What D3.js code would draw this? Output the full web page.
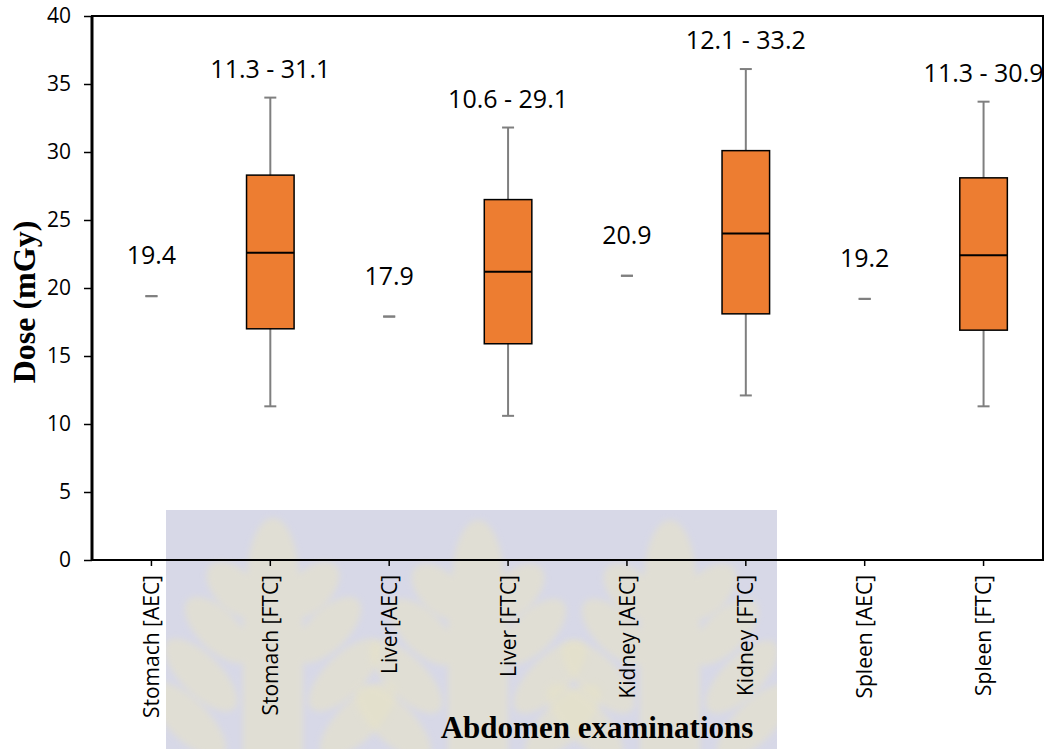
<!DOCTYPE html>
<html>
<head>
<meta charset="utf-8">
<script src="https://cdn.jsdelivr.net/npm/d3@7"></script>
<style>
  html, body { margin: 0; padding: 0; background: #fff; }
  svg { display: block; }
</style>
</head>
<body>
<svg id="chart" width="1048" height="749"></svg>
<script>
// ---- data ----
const categories = ['Stomach [AEC]', 'Stomach [FTC]', 'Liver[AEC]', 'Liver [FTC]',
                    'Kidney [AEC]', 'Kidney [FTC]', 'Spleen [AEC]', 'Spleen [FTC]'];
const whiskerLow  = [19.4, 11.3, 17.9, 10.6, 20.9, 12.1, 19.2, 11.3];
const q1          = [19.4, 17.0, 17.9, 15.9, 20.9, 18.1, 19.2, 16.9];
const median      = [19.4, 22.6, 17.9, 21.2, 20.9, 24.0, 19.2, 22.4];
const q3          = [19.4, 28.3, 17.9, 26.5, 20.9, 30.1, 19.2, 28.1];
const whiskerHigh = [19.4, 34.0, 17.9, 31.8, 20.9, 36.1, 19.2, 33.7];
const rangeLabels = ['19.4', '11.3 - 31.1', '17.9', '10.6 - 29.1',
                     '20.9', '12.1 - 33.2', '19.2', '11.3 - 30.9'];
const yTicks = [0, 5, 10, 15, 20, 25, 30, 35, 40];

const data = categories.map((c, i) => ({
  name: c, lo: whiskerLow[i], q1: q1[i], med: median[i], q3: q3[i], hi: whiskerHigh[i], label: rangeLabels[i]
}));

const svg = d3.select('#chart');
const margin = { top: 16, right: 5, bottom: 189, left: 92 };
const width = 1048 - margin.left - margin.right;
const height = 749 - margin.top - margin.bottom;

// faint logo band behind the bottom of the reference
const defs = svg.append('defs');
defs.append('filter').attr('id', 'soft')
  .append('feGaussianBlur').attr('stdDeviation', 3);
defs.append('clipPath').attr('id', 'wmclip')
  .append('rect').attr('x', 166).attr('y', 510).attr('width', 611).attr('height', 239);

const wm = svg.append('g').attr('clip-path', 'url(#wmclip)');
wm.append('rect')
  .attr('x', 166).attr('y', 510).attr('width', 611).attr('height', 239)
  .attr('fill', '#d7d8e7');
const leaf = (cx, top) => {
  const g = wm.append('g').attr('fill', '#e6e2c8').attr('opacity', 0.6).attr('filter', 'url(#soft)');
  g.append('ellipse').attr('cx', cx).attr('cy', top + 60).attr('rx', 26).attr('ry', 62);
  [[40, 38, 70], [80, 55, 85], [125, 72, 95], [170, 85, 100]].forEach(([dy, dx, len]) => {
    [-1, 1].forEach(s => {
      g.append('ellipse')
        .attr('cx', cx + s * dx).attr('cy', top + dy + 30)
        .attr('rx', 20).attr('ry', len / 2)
        .attr('transform', `rotate(${s * 45}, ${cx + s * dx}, ${top + dy + 30})`);
    });
  });
  g.append('rect').attr('x', cx - 30).attr('y', top + 60).attr('width', 60).attr('height', 180);
};
leaf(273, 520);
leaf(478, 522);
leaf(670, 522);

const graph = svg.append('g')
  .attr('transform', `translate(${margin.left}, ${margin.top})`);

const x = d3.scaleBand()
  .domain(categories)
  .range([0, width])
  .paddingInner(0)
  .paddingOuter(0);

const y = d3.scaleLinear().domain([0, 40]).range([height, 0]);

const boxW = x.bandwidth() * 0.4;
const capW = 12;
const cx = d => x(d.name) + x.bandwidth() / 2;

// axes
const yAxis = d3.axisLeft(y).tickValues(yTicks).tickSize(8).tickPadding(13);
const xAxis = d3.axisBottom(x).tickSize(6).tickPadding(6);

const yAxisGroup = graph.append('g').call(yAxis);
yAxisGroup.select('.domain').remove();
yAxisGroup.selectAll('line').attr('stroke', '#000').attr('stroke-width', 1.5);
yAxisGroup.selectAll('text')
  .attr('font-family', '"Open Sans", sans-serif')
  .attr('font-size', 21)
  .attr('fill', '#000');

const xAxisGroup = graph.append('g')
  .attr('transform', `translate(0, ${height})`)
  .call(xAxis);
xAxisGroup.select('.domain').remove();
xAxisGroup.selectAll('line').attr('stroke', '#000').attr('stroke-width', 1.5);
xAxisGroup.selectAll('text')
  .attr('font-family', '"Open Sans", sans-serif')
  .attr('font-size', 21)
  .attr('fill', '#000')
  .attr('transform', 'rotate(-90)')
  .attr('text-anchor', 'end')
  .attr('dy', '0.36em')
  .attr('x', -15)
  .attr('y', 0);

// frame
graph.append('rect')
  .attr('x', 0).attr('y', 0)
  .attr('width', width).attr('height', height)
  .attr('fill', 'none')
  .attr('stroke', '#000')
  .attr('stroke-width', 2);
graph.append('line')
  .attr('x1', 0).attr('x2', 0).attr('y1', 0).attr('y2', height)
  .attr('stroke', '#000').attr('stroke-width', 3);

// whiskers and boxes
const boxes = graph.selectAll('g.box').data(data).enter().append('g').attr('class', 'box');

boxes.filter(d => d.hi > d.lo)
  .append('line')
  .attr('x1', cx).attr('x2', cx)
  .attr('y1', d => y(d.lo)).attr('y2', d => y(d.hi))
  .attr('stroke', '#7f7f7f').attr('stroke-width', 2);

boxes.filter(d => d.hi > d.lo)
  .append('rect')
  .attr('x', d => cx(d) - boxW / 2)
  .attr('y', d => y(d.q3))
  .attr('width', boxW)
  .attr('height', d => y(d.q1) - y(d.q3))
  .attr('fill', '#ed7d31')
  .attr('stroke', '#000')
  .attr('stroke-width', 1.5);

boxes.filter(d => d.hi > d.lo)
  .append('line')
  .attr('x1', d => cx(d) - boxW / 2).attr('x2', d => cx(d) + boxW / 2)
  .attr('y1', d => y(d.med)).attr('y2', d => y(d.med))
  .attr('stroke', '#000').attr('stroke-width', 2);

// caps (single-value groups show only a cap)
['lo', 'hi'].forEach(k => {
  boxes.append('line')
    .attr('x1', d => cx(d) - capW / 2).attr('x2', d => cx(d) + capW / 2)
    .attr('y1', d => y(d[k])).attr('y2', d => y(d[k]))
    .attr('stroke', '#7f7f7f').attr('stroke-width', 2);
});

// range labels
boxes.append('text')
  .attr('x', cx)
  .attr('y', d => y(d.hi) - (d.hi > d.lo ? 20 : 32))
  .attr('text-anchor', 'middle')
  .attr('font-family', '"Open Sans", sans-serif')
  .attr('font-size', 25)
  .attr('fill', '#000')
  .text(d => d.label);

// axis titles
svg.append('text')
  .attr('transform', `translate(35, 302) rotate(-90)`)
  .attr('text-anchor', 'middle')
  .attr('font-family', '"Liberation Serif", "Times New Roman", serif')
  .attr('font-weight', 'bold')
  .attr('font-size', 32)
  .attr('fill', '#000')
  .text('Dose (mGy)');

svg.append('text')
  .attr('x', 597)
  .attr('y', 738)
  .attr('text-anchor', 'middle')
  .attr('font-family', '"Liberation Serif", "Times New Roman", serif')
  .attr('font-weight', 'bold')
  .attr('font-size', 31)
  .attr('fill', '#000')
  .text('Abdomen examinations');
</script>
</body>
</html>
